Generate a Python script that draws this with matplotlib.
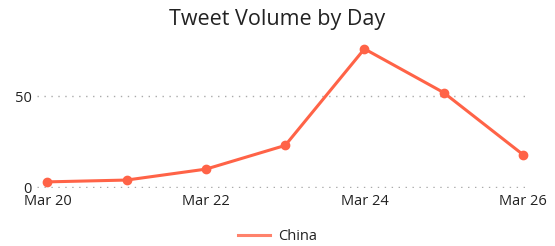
import matplotlib.pyplot as plt

# =========================
# DONNÉES
# =========================

jours = ["Mar 20", "Mar 21", "Mar 22", "Mar 23", "Mar 24", "Mar 25", "Mar 26"]
china = [3, 4, 10, 23, 76, 52, 18]
etiquettes_x = ["Mar 20", "Mar 22", "Mar 24", "Mar 26"]
ticks_y = [0, 50]

COULEUR = "#FF6347"

plt.rcParams["font.family"] = ["Open Sans", "DejaVu Sans"]

# =========================
# GRAPHIQUE
# =========================

fig = plt.figure(figsize=(5.55, 2.46), dpi=100)
ax = fig.add_axes([0.067, 0.234, 0.888, 0.597])

x = list(range(len(jours)))
ax.plot(x, china, color=COULEUR, linewidth=2.2, marker="o", markersize=6,
        clip_on=False, label="China", zorder=3)

ax.set_xlim(-0.13, 6.09)
ax.set_ylim(-0.6, 80)

ax.set_xticks([jours.index(j) for j in etiquettes_x])
ax.set_xticklabels(etiquettes_x)
ax.set_yticks(ticks_y)

ax.grid(axis="y", linestyle=(0, (1, 4)), color="#aaaaaa", linewidth=1.0)
ax.grid(axis="x", visible=False)
for s in ax.spines.values():
    s.set_visible(False)
ax.tick_params(length=0, labelsize=10.5, colors="#222222")
ax.tick_params(axis="x", pad=4)
ax.tick_params(axis="y", pad=4)

fig.suptitle("Tweet Volume by Day", fontsize=15.5, y=0.965, color="#222222")

leg = fig.legend(loc="lower center", bbox_to_anchor=(0.5, -0.045), frameon=False,
                 fontsize=10.5, handlelength=2.2, handletextpad=0.5)
for t in leg.get_texts():
    t.set_color("#222222")
for h in leg.get_lines():
    h.set_marker("")
    h.set_alpha(0.8)

fig.savefig("out.png", dpi=100)
